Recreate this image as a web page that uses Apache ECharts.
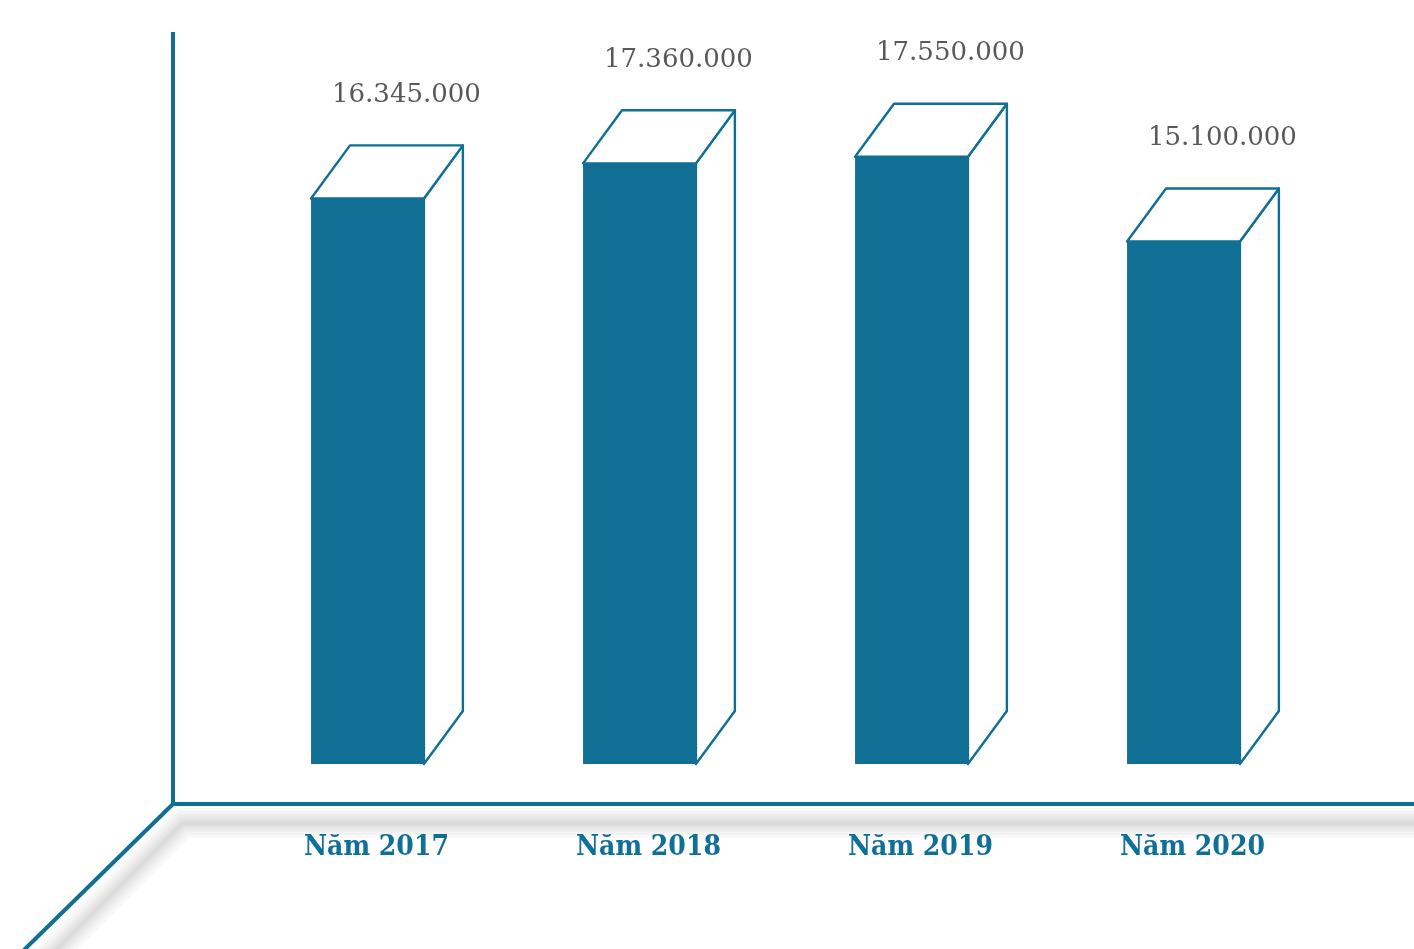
<!DOCTYPE html>
<html><head><meta charset="utf-8">
<script src="https://cdn.jsdelivr.net/npm/echarts@6/dist/echarts.min.js"></script>
<style>html,body{margin:0;padding:0;background:#fff}#c{width:1414px;height:949px}</style>
</head><body><div id="c"></div>
<script>
const categories = ['Năm 2017', 'Năm 2018', 'Năm 2019', 'Năm 2020'];
const values = [16345000, 17360000, 17550000, 15100000];
const valueLabels = ['16.345.000', '17.360.000', '17.550.000', '15.100.000'];

const TEAL = '#106f95';
const chart = echarts.init(document.getElementById('c'), null, {renderer: 'canvas'});

function renderBar(params, api) {
  const idx = api.value(0);
  const v = api.value(1);
  const base = api.coord([idx, 0]);
  const top = api.coord([idx, v]);
  const w = api.size([1, 0])[0] * 0.415;
  const dx = w * 0.345, dy = -w * 0.47;
  const x0 = base[0] - w / 2, x1 = base[0] + w / 2;
  const yb = base[1], yt = top[1];
  return {
    type: 'group',
    children: [
      { type: 'polygon', shape: { points: [[x1, yt], [x1 + dx, yt + dy], [x1 + dx, yb + dy], [x1, yb]] },
        style: { fill: '#fff', stroke: TEAL, lineWidth: 2.4, lineJoin: 'round' } },
      { type: 'polygon', shape: { points: [[x0, yt], [x0 + dx, yt + dy], [x1 + dx, yt + dy], [x1, yt]] },
        style: { fill: '#fff', stroke: TEAL, lineWidth: 2.4, lineJoin: 'round' } },
      { type: 'rect', shape: { x: x0, y: yt, width: w, height: yb - yt },
        style: { fill: TEAL } },
      { type: 'text', x: base[0] + dx, y: yt + dy - 50,
        style: { text: valueLabels[params.dataIndex], fill: '#595959', font: '26px "DejaVu Serif"',
          align: 'center', verticalAlign: 'middle' } }
    ]
  };
}

const shadowLayers = [30, 24, 18, 13, 8, 4].map(function (lw) {
  return { type: 'polyline', z: 0, silent: true,
    shape: { points: [[1440, 823], [183, 823], [46, 960]] },
    style: { stroke: 'rgba(0,0,0,0.022)', lineWidth: lw, fill: null, lineJoin: 'round', lineCap: 'round' } };
});

chart.setOption({
  backgroundColor: '#fff',
  animation: false,
  grid: { left: 231.5, right: 94.5, top: 72, bottom: 185 },
  xAxis: {
    type: 'category', data: categories,
    axisLine: { show: false }, axisTick: { show: false },
    axisLabel: { margin: 70, color: TEAL, fontFamily: 'DejaVu Serif Condensed', fontWeight: 'bold', fontSize: 28, padding: [0, 0, 0, 18] }
  },
  yAxis: { type: 'value', min: 0, max: 20000000, show: false, splitLine: { show: false } },
  graphic: shadowLayers.concat([
    { type: 'line', z: 10, shape: { x1: 173, y1: 32, x2: 173, y2: 806 }, style: { stroke: TEAL, lineWidth: 4 } },
    { type: 'line', z: 10, shape: { x1: 171, y1: 804, x2: 1414, y2: 804 }, style: { stroke: TEAL, lineWidth: 4 } },
    { type: 'line', z: 10, shape: { x1: 174, y1: 803, x2: 24, y2: 950 }, style: { stroke: TEAL, lineWidth: 4 } }
  ]),
  series: [{
    type: 'custom', renderItem: renderBar,
    data: values.map((v, i) => [i, v])
  }]
});
</script></body></html>
